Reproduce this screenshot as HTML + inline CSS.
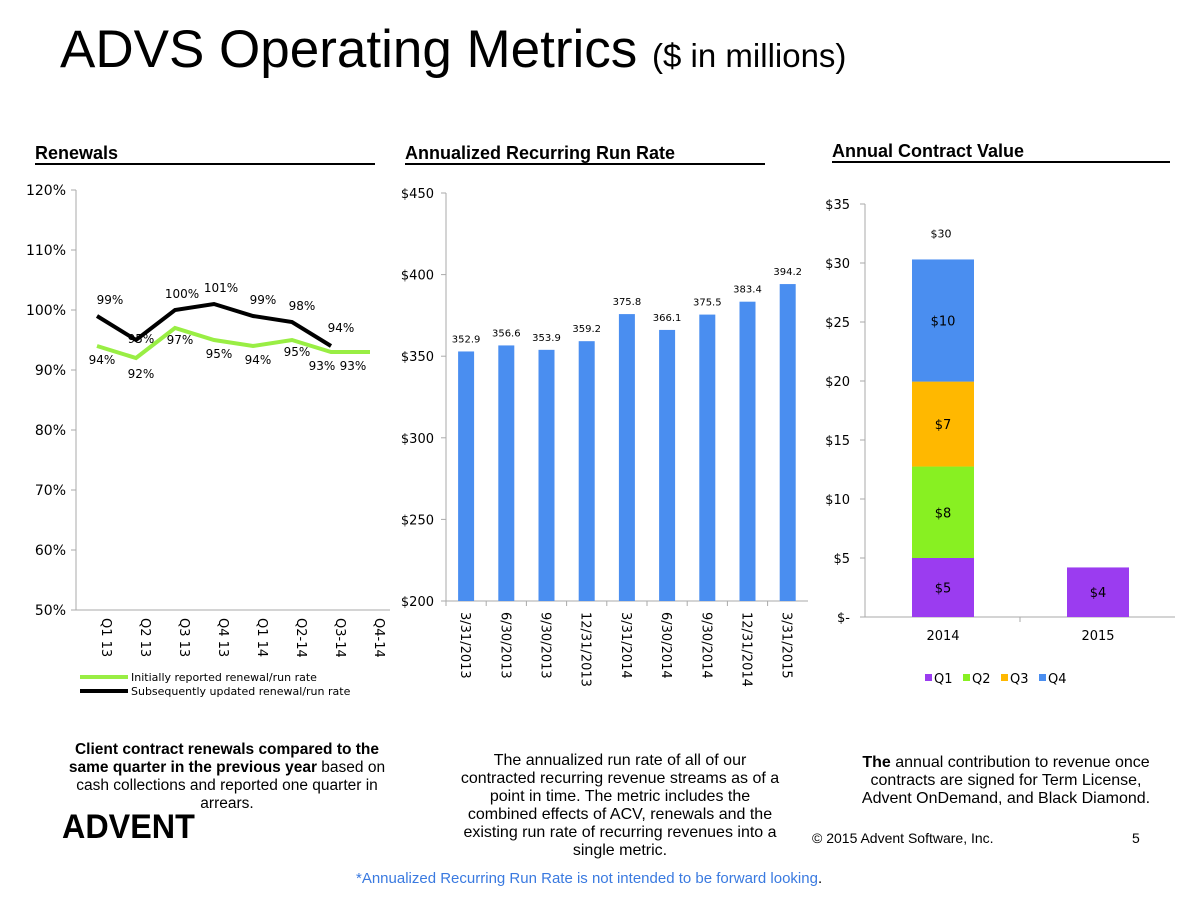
<!DOCTYPE html>
<html><head><meta charset="utf-8">
<style>
body{margin:0;width:1200px;height:901px;background:#fff;position:relative;overflow:hidden;font-family:"Liberation Sans",sans-serif}
.a{position:absolute}
.sec{position:absolute;font-weight:bold;font-size:18px;border-bottom:2px solid #000;line-height:20px}
.cap{position:absolute;font-size:15.5px;text-align:center;line-height:18px}
svg text{font-family:"DejaVu Sans",sans-serif}
</style></head><body>
<div class="a" style="left:60px;top:20px;font-size:53px;line-height:60px">ADVS Operating Metrics <span style="font-size:33px">($ in millions)</span></div>
<div class="sec" style="left:35px;top:143px;width:340px">Renewals</div>
<div class="sec" style="left:405px;top:143px;width:360px">Annualized Recurring Run Rate</div>
<div class="sec" style="left:832px;top:141px;width:338px">Annual Contract Value</div>

<svg class="a" style="left:0;top:0" width="1200" height="901">
<g id="left"></g>
<g id="mid"></g>
<g id="right"></g>
</svg>

<div class="cap" style="left:57px;top:741px;width:340px"><b>Client contract renewals compared to the same quarter in the previous year</b> based on cash collections and reported one quarter in arrears.</div>
<div class="a" style="left:62px;top:808px;font-size:34px;font-weight:900;transform:scaleX(0.95);transform-origin:left top">ADVENT</div>
<div class="cap" style="left:455px;top:752px;width:330px;font-size:16px">The annualized run rate of all of our contracted recurring revenue streams as of a point in time. The metric includes the combined effects of ACV, renewals and the existing run rate of recurring revenues into a single metric.</div>
<div class="cap" style="left:848px;top:754px;width:316px;font-size:16px"><b>The</b> annual contribution to revenue once contracts are signed for Term License, Advent OnDemand, and Black Diamond.</div>
<div class="a" style="left:812px;top:830px;font-size:14px">© 2015 Advent Software, Inc.</div>
<div class="a" style="left:1132px;top:830px;font-size:14px">5</div>
<div class="a" style="left:356px;top:870px;font-size:15px;color:#3a7ae0">*Annualized Recurring Run Rate is not intended to be forward looking<span style="color:#000">.</span></div>

<script>
const quarters=["Q1 13","Q2 13","Q3 13","Q4 13","Q1 14","Q2-14","Q3-14","Q4-14"];
const initialRate=[94,92,97,95,94,95,93,93];
const updatedRate=[99,95,100,101,99,98,94];
const pctTicks=[50,60,70,80,90,100,110,120];
const runDates=["3/31/2013","6/30/2013","9/30/2013","12/31/2013","3/31/2014","6/30/2014","9/30/2014","12/31/2014","3/31/2015"];
const runValues=[352.9,356.6,353.9,359.2,375.8,366.1,375.5,383.4,394.2];
const runTicks=[200,250,300,350,400,450];
const acvYears=["2014","2015"];
const acvQ1=[5.0,4.2];
const acvQ2=[7.75,0];
const acvQ3=[7.2,0];
const acvQ4=[10.35,0];
const acvLabels=[["$5","$8","$7","$10"],["$4","","",""]];
const acvTotals=["$30",""];
const acvTicks=[0,5,10,15,20,25,30,35];

const NS="http://www.w3.org/2000/svg";
function mk(p,t,a,txt){const e=document.createElementNS(NS,t);for(const k in a)e.setAttribute(k,a[k]);if(txt!==undefined)e.textContent=txt;p.appendChild(e);return e;}

// LEFT
const L=document.getElementById('left');
const ly=v=>610-(v-50)*6, lx=i=>97+i*39;
mk(L,'line',{x1:76,y1:190,x2:76,y2:610,stroke:'#aaa'});
mk(L,'line',{x1:76,y1:610,x2:390,y2:610,stroke:'#aaa'});
pctTicks.forEach(t=>{
  const e=mk(L,'text',{x:66,y:ly(t)+5,'text-anchor':'end','font-size':14},t+'%');
  
  mk(L,'line',{x1:71,y1:ly(t),x2:76,y2:ly(t),stroke:'#aaa'});
});
quarters.forEach((q,i)=>{
  const e=mk(L,'text',{transform:`translate(${lx(i)+5},618) rotate(90)`,'font-size':13},q);
  
});
const gl=mk(L,'polyline',{points:initialRate.map((v,i)=>lx(i)+','+ly(v)).join(' '),fill:'none',stroke:'#99ee44','stroke-width':4});

const bl=mk(L,'polyline',{points:updatedRate.map((v,i)=>lx(i)+','+ly(v)).join(' '),fill:'none',stroke:'#000','stroke-width':4});

const gOff=[[0,18],[0,20],[0,16],[0,18],[0,18],[0,16],[-14,18],[-22,18]];
initialRate.forEach((v,i)=>{const e=mk(L,'text',{x:lx(i)+gOff[i][0]+5,y:ly(v)+gOff[i][1],'text-anchor':'middle','font-size':12},v+'%');});
const bOff=[[13,-12],[5,3],[7,-12],[7,-12],[10,-12],[10,-12],[10,-14]];
updatedRate.forEach((v,i)=>{const e=mk(L,'text',{x:lx(i)+bOff[i][0],y:ly(v)+bOff[i][1],'text-anchor':'middle','font-size':12},v+'%');});
mk(L,'line',{x1:80,y1:677,x2:128,y2:677,stroke:'#99ee44','stroke-width':4});
let t1=mk(L,'text',{x:131,y:681,'font-size':11},'Initially reported renewal/run rate');
mk(L,'line',{x1:80,y1:691,x2:128,y2:691,stroke:'#000','stroke-width':4});
let t2=mk(L,'text',{x:131,y:695,'font-size':11},'Subsequently updated renewal/run rate');

// MID
const M=document.getElementById('mid');
const my=v=>601-(v-200)*(408/250), cw=40.2, mx=i=>446+cw*(i+0.5);
mk(M,'line',{x1:446,y1:193,x2:446,y2:601,stroke:'#aaa'});
mk(M,'line',{x1:446,y1:601,x2:808,y2:601,stroke:'#aaa'});
runTicks.forEach(t=>{
  const e=mk(M,'text',{x:434,y:my(t)+5,'text-anchor':'end','font-size':13},'$'+t);
  
  mk(M,'line',{x1:441,y1:my(t),x2:446,y2:my(t),stroke:'#aaa'});
});
runValues.forEach((v,i)=>{
  const r=mk(M,'rect',{x:mx(i)-8,y:my(v),width:16,height:601-my(v),fill:'#4a8ef0'});
  
  const e=mk(M,'text',{x:mx(i),y:my(v)-9,'text-anchor':'middle','font-size':10},v.toFixed(1));
  
  const d=mk(M,'text',{transform:`translate(${mx(i)-5},612) rotate(90)`,'font-size':13},runDates[i]);
  
  mk(M,'line',{x1:446+cw*i,y1:601,x2:446+cw*i,y2:606,stroke:'#aaa'});
});

// RIGHT
const R=document.getElementById('right');
const ry=v=>617-v*(413/35), rx=i=>943+i*155;
mk(R,'line',{x1:865,y1:204,x2:865,y2:617,stroke:'#aaa'});
mk(R,'line',{x1:865,y1:617,x2:1175,y2:617,stroke:'#aaa'});
acvTicks.forEach(t=>{
  const e=mk(R,'text',{x:850,y:ry(t)+5,'text-anchor':'end','font-size':13},t===0?'$-':'$'+t);
  
  mk(R,'line',{x1:860,y1:ry(t),x2:865,y2:ry(t),stroke:'#aaa'});
});
const series=[acvQ1,acvQ2,acvQ3,acvQ4], cols=['#9b3cf0','#88f022','#ffb800','#4a8ef0'];
acvYears.forEach((y,i)=>{
  let base=0;
  series.forEach((s,k)=>{
    const v=s[i]; if(!v) return;
    const r=mk(R,'rect',{x:rx(i)-31,y:ry(base+v),width:62,height:ry(base)-ry(base+v),fill:cols[k]});
    
    const e=mk(R,'text',{x:rx(i),y:(ry(base)+ry(base+v))/2+5,'text-anchor':'middle','font-size':13},acvLabels[i][k]);
    
    base+=v;
  });
  if(acvTotals[i]){const e=mk(R,'text',{x:rx(i)-2,y:ry(base)-22,'text-anchor':'middle','font-size':11},acvTotals[i]);}
  const d=mk(R,'text',{x:rx(i),y:640,'text-anchor':'middle','font-size':13},y);
  
});
mk(R,'line',{x1:1020,y1:617,x2:1020,y2:622,stroke:'#aaa'});
["Q1","Q2","Q3","Q4"].forEach((q,k)=>{
  const x=925+k*38;
  mk(R,'rect',{x:x,y:674,width:7,height:7,fill:cols[k]});
  const e=mk(R,'text',{x:x+9,y:683,'font-size':13},q);
  
});
</script>
</body></html>
